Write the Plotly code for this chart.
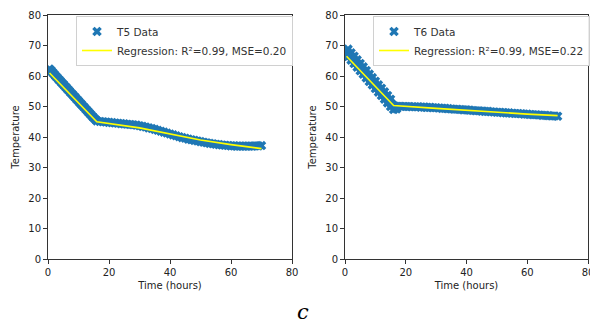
import plotly.graph_objects as go

hours = [0.5, 1, 1.5, 2, 2.5, 3, 3.5, 4, 4.5, 5, 5.5, 6, 6.5, 7, 7.5, 8,
         8.5, 9, 9.5, 10, 10.5, 11, 11.5, 12, 12.5, 13, 13.5, 14, 14.5, 15, 15.5, 16] + list(range(17, 71))

t5_temp = [62.3, 61.8, 61.2, 60.6, 60.0, 59.5, 58.9, 58.4, 57.8, 57.3, 56.7, 56.2, 55.6, 55.1, 54.5, 54.0,
           53.4, 52.9, 52.3, 51.8, 51.2, 50.7, 50.1, 49.6, 49.0, 48.5, 47.9, 47.4, 46.8, 46.3, 45.8, 45.3,
           45.1, 45.0, 44.9, 44.8, 44.7, 44.6, 44.5, 44.4, 44.3, 44.2, 44.1, 44.0, 43.9, 43.7,
           43.5, 43.3, 43.0, 42.8, 42.5, 42.2, 41.9, 41.6, 41.3, 41.0,
           40.7, 40.4, 40.1, 39.8, 39.6, 39.3, 39.1, 38.9, 38.7, 38.5,
           38.3, 38.1, 37.9, 37.8, 37.6, 37.5, 37.4, 37.3, 37.2, 37.1,
           37.1, 37.0, 37.0, 37.0, 37.0, 37.0, 37.0, 37.1, 37.1, 37.2]

t6_temp = [68.2, 67.6, 67.0, 66.4, 65.9, 65.3, 64.7, 64.1, 63.5, 62.9, 62.4, 61.8, 61.2, 60.6, 60.0, 59.4,
           58.9, 58.3, 57.7, 57.1, 56.5, 55.9, 55.4, 54.8, 54.2, 53.6, 53.0, 52.4, 51.8, 51.2, 50.7, 50.2,
           50.1, 50.1, 50.0, 50.0, 50.0, 49.9, 49.9, 49.9, 49.8, 49.8, 49.7, 49.7, 49.6, 49.6,
           49.5, 49.4, 49.4, 49.3, 49.2, 49.1, 49.1, 49.0, 48.9, 48.9,
           48.8, 48.7, 48.6, 48.6, 48.5, 48.4, 48.4, 48.3, 48.2, 48.1,
           48.1, 48.0, 47.9, 47.9, 47.8, 47.7, 47.7, 47.6, 47.5, 47.5,
           47.4, 47.3, 47.3, 47.2, 47.1, 47.1, 47.0, 46.9, 46.9, 46.8]

# extra T6 readings during the cooling phase (wider spread in the band)
t6_extra_hours = [1, 2, 3, 4, 5, 6, 7, 8, 9, 10, 11, 12, 13, 14, 15,
                  1, 2, 3, 4, 5, 6, 7, 8, 9, 10, 11, 12, 13, 14, 15, 16, 17]
t6_extra_temp = [68.8, 67.6, 66.5, 65.3, 64.1, 63.0, 61.8, 60.6, 59.5, 58.3, 57.1, 56.0, 54.8, 53.6, 52.4,
                 66.4, 65.2, 64.1, 62.9, 61.7, 60.6, 59.4, 58.2, 57.1, 55.9, 54.7, 53.6, 52.4, 51.2, 50.0, 49.0, 49.2]

reg_hours = [0.5, 16, 30, 40, 50, 60, 70]
t5_reg = [61.0, 45.0, 43.0, 41.0, 39.0, 37.5, 36.2]
t6_reg = [66.5, 50.3, 49.4, 48.7, 48.1, 47.5, 47.0]

t5_label = "Regression: R²=0.99, MSE=0.20"
t6_label = "Regression: R²=0.99, MSE=0.22"

BLUE = "#1f77b4"
FONT = "DejaVu Sans"

fig = go.Figure()

data_marker = dict(symbol="x", size=8.5, color=BLUE, line=dict(width=0))

fig.add_trace(go.Scatter(x=hours, y=t5_temp, mode="markers", name="T5 Data",
                         marker=data_marker, xaxis="x", yaxis="y", legend="legend"))
fig.add_trace(go.Scatter(x=reg_hours, y=t5_reg, mode="lines", name=t5_label,
                         line=dict(color="#ffff00", width=1.6),
                         xaxis="x", yaxis="y", legend="legend"))
fig.add_trace(go.Scatter(x=hours + t6_extra_hours, y=t6_temp + t6_extra_temp, mode="markers", name="T6 Data",
                         marker=data_marker, xaxis="x2", yaxis="y2", legend="legend2"))
fig.add_trace(go.Scatter(x=reg_hours, y=t6_reg, mode="lines", name=t6_label,
                         line=dict(color="#ffff00", width=1.6),
                         xaxis="x2", yaxis="y2", legend="legend2"))

ax_common = dict(showgrid=False, zeroline=False, showline=True, linecolor="#333333", linewidth=1,
                 mirror=True, ticks="outside", ticklen=4, tickcolor="#333333", automargin=False,
                 ticklabeloverflow="allow",
                 tickfont=dict(family=FONT, size=10, color="#222222"))

legend_common = dict(xanchor="left", yanchor="top",
                     bgcolor="rgba(255,255,255,0.9)", bordercolor="#d0d0d0", borderwidth=1,
                     font=dict(family=FONT, size=10.5, color="#333333"), itemwidth=30,
                     tracegroupgap=0)

fig.update_layout(
    width=590, height=322,
    margin=dict(l=0, r=0, t=0, b=0),
    paper_bgcolor="white", plot_bgcolor="white",
    font=dict(family=FONT, size=10, color="#222222"),
    xaxis=dict(domain=[48/590, 292/590], range=[0, 80], dtick=20, anchor="y",
               title=dict(text="Time (hours)", font=dict(size=10), standoff=4), **ax_common),
    yaxis=dict(domain=[63/322, 307/322], range=[0, 80], dtick=10, anchor="x",
               title=dict(text="Temperature", font=dict(size=10), standoff=6), **ax_common),
    xaxis2=dict(domain=[345/590, 588/590], range=[0, 80], dtick=20, anchor="y2",
                title=dict(text="Time (hours)", font=dict(size=10), standoff=4), **ax_common),
    yaxis2=dict(domain=[63/322, 307/322], range=[0, 80], dtick=10, anchor="x2",
                title=dict(text="Temperature", font=dict(size=10), standoff=6), **ax_common),
    legend=dict(x=76/590, y=1 - 16/322, **legend_common),
    legend2=dict(x=373/590, y=1 - 16/322, **legend_common),
    annotations=[dict(text="<i>c</i>", x=303/590, y=1 - 312/322, xref="paper", yref="paper",
                      showarrow=False, font=dict(family="DejaVu Serif", size=21, color="black"),
                      xanchor="center", yanchor="middle")],
    showlegend=True,
)

fig.write_html("out.html", config={"displayModeBar": False},
               post_script="document.body.style.margin='0';document.body.style.overflow='hidden';")
